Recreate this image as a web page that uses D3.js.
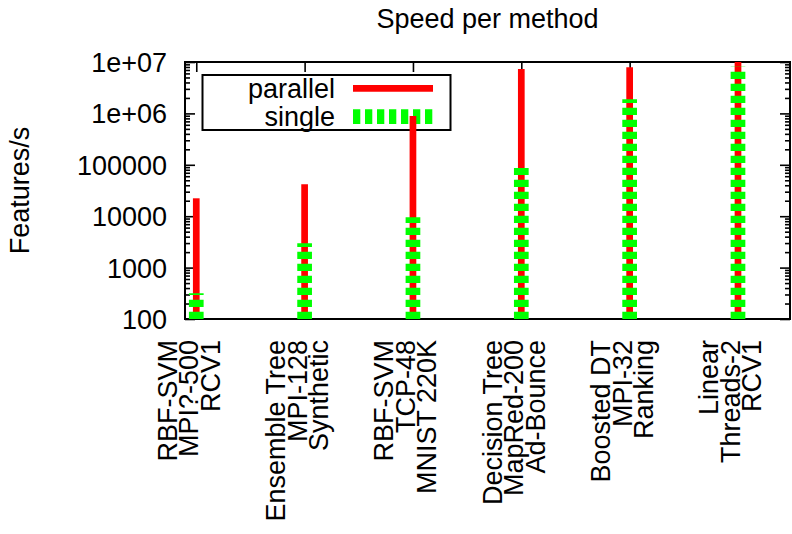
<!DOCTYPE html>
<html>
<head>
<meta charset="utf-8">
<script src="https://cdn.jsdelivr.net/npm/d3@7"></script>
<style>
  html, body { margin: 0; padding: 0; background: #fff; }
  svg { display: block; }
  text { font-family: "Liberation Sans", Arial, sans-serif; fill: #000; }
</style>
</head>
<body>
<script>
// ---- data ----
const labelLine1 = ["RBF-SVM", "Ensemble Tree", "RBF-SVM", "Decision Tree", "Boosted DT", "Linear"];
const labelLine2 = ["MPI?-500", "MPI-128", "TCP-48", "MapRed-200", "MPI-32", "Threads-2"];
const labelLine3 = ["RCV1", "Synthetic", "MNIST 220K", "Ad-Bounce", "Ranking", "RCV1"];
const parallelValues = [22300, 41700, 890000, 7300000, 7900000, 10500000];
const singleValues = [316, 2970, 9500, 86700, 1880000, 8100000];
const yTickValues = [100, 1000, 10000, 100000, 1000000, 10000000];
const yTickLabels = ["100", "1000", "10000", "100000", "1e+06", "1e+07"];
const seriesNames = ["parallel", "single"];
const titleText = "Speed per method";
const yTitle = "Features/s";

// ---- layout ----
const W = 792, H = 534;
const pLeft = 185, pRight = 790, pTop = 62, pBottom = 319;
const fontSize = 27;

const svg = d3.select("body").append("svg").attr("width", W).attr("height", H);

const x = d3.scaleLinear().domain([-0.104, 5.48]).range([pLeft, pRight]);
const y = d3.scaleLog().domain([100, 1e7]).range([pBottom, pTop]);

const idx = d3.range(labelLine1.length);
const minorValues = [];
for (let e = 2; e < 7; e++) for (let m = 2; m <= 9; m++) minorValues.push(m * Math.pow(10, e));

function styleAxis(g) {
  g.select(".domain").remove();
  g.selectAll(".tick line").attr("stroke", "#000").attr("stroke-width", 1.6);
}

// minor y ticks (left + right)
svg.append("g").attr("transform", `translate(${pLeft},0)`)
  .call(d3.axisLeft(y).tickValues(minorValues).tickSize(-5).tickFormat(""))
  .call(styleAxis);
svg.append("g").attr("transform", `translate(${pRight},0)`)
  .call(d3.axisRight(y).tickValues(minorValues).tickSize(-5).tickFormat(""))
  .call(styleAxis);

// major y ticks with labels
const yAxisG = svg.append("g").attr("transform", `translate(${pLeft},0)`)
  .call(d3.axisLeft(y).tickValues(yTickValues).tickSize(-10).tickPadding(18)
    .tickFormat((d, i) => yTickLabels[i]))
  .call(styleAxis);
yAxisG.selectAll(".tick text")
  .attr("font-size", fontSize).attr("font-family", "Liberation Sans, Arial, sans-serif")
  .attr("dy", "0.35em").attr("fill", "#000");
svg.append("g").attr("transform", `translate(${pRight},0)`)
  .call(d3.axisRight(y).tickValues(yTickValues).tickSize(-10).tickFormat(""))
  .call(styleAxis);

// x ticks top & bottom
svg.append("g").attr("transform", `translate(0,${pTop})`)
  .call(d3.axisTop(x).tickValues(idx).tickSize(-10).tickFormat(""))
  .call(styleAxis);
svg.append("g").attr("transform", `translate(0,${pBottom})`)
  .call(d3.axisBottom(x).tickValues(idx).tickSize(-10).tickFormat(""))
  .call(styleAxis);

// border
svg.append("rect")
  .attr("x", pLeft).attr("y", pTop).attr("width", pRight - pLeft).attr("height", pBottom - pTop)
  .attr("fill", "none").attr("stroke", "#000").attr("stroke-width", 2);

// legend
const lg = svg.append("g");
lg.append("rect").attr("x", 202.5).attr("y", 75).attr("width", 248).attr("height", 55)
  .attr("fill", "none").attr("stroke", "#000").attr("stroke-width", 2);
lg.append("text").attr("x", 335).attr("y", 88.3).attr("dy", "0.35em")
  .attr("text-anchor", "end").attr("font-size", fontSize).text(seriesNames[0]);
lg.append("line").attr("x1", 353).attr("x2", 433).attr("y1", 88.3).attr("y2", 88.3)
  .attr("stroke", "#ff0000").attr("stroke-width", 6.7);
lg.append("text").attr("x", 335).attr("y", 116.7).attr("dy", "0.35em")
  .attr("text-anchor", "end").attr("font-size", fontSize).text(seriesNames[1]);
lg.append("line").attr("x1", 353).attr("x2", 433).attr("y1", 116.7).attr("y2", 116.7)
  .attr("stroke", "#00ff00").attr("stroke-width", 14.7).attr("stroke-dasharray", "7.3,4.7");

// clip
svg.append("clipPath").attr("id", "plotclip").append("rect")
  .attr("x", pLeft).attr("y", pTop).attr("width", pRight - pLeft).attr("height", pBottom - pTop);
const plot = svg.append("g").attr("clip-path", "url(#plotclip)");

// parallel bars (red impulses)
plot.selectAll("line.par").data(parallelValues).join("line").attr("class", "par")
  .attr("x1", (d, i) => x(i)).attr("x2", (d, i) => x(i))
  .attr("y1", y(100)).attr("y2", d => y(d))
  .attr("stroke", "#ff0000").attr("stroke-width", 6.7);

// single bars (green dashed impulses)
plot.selectAll("line.sgl").data(singleValues).join("line").attr("class", "sgl")
  .attr("x1", (d, i) => x(i)).attr("x2", (d, i) => x(i))
  .attr("y1", y(100)).attr("y2", d => y(d))
  .attr("stroke", "#00ff00").attr("stroke-width", 14.7).attr("stroke-dasharray", "7.3,4.7");

// x labels (rotated, three lines)
const lines = [labelLine1, labelLine2, labelLine3];
const lineOffsets = [-19.5, 2, 23.5];
lines.forEach((arr, li) => {
  svg.selectAll(`text.xl${li}`).data(arr).join("text").attr("class", `xl${li}`)
    .attr("transform", (d, i) => `translate(${x(i) + lineOffsets[li]},340) rotate(-90)`)
    .attr("text-anchor", "end").attr("font-size", fontSize).text(d => d);
});

// title
svg.append("text").attr("x", (pLeft + pRight) / 2).attr("y", 28.3).attr("text-anchor", "middle")
  .attr("font-size", fontSize).text(titleText);

// y title
svg.append("text").attr("transform", `translate(29,${(pTop + pBottom) / 2}) rotate(-90)`)
  .attr("text-anchor", "middle").attr("font-size", fontSize).text(yTitle);
</script>
</body>
</html>
